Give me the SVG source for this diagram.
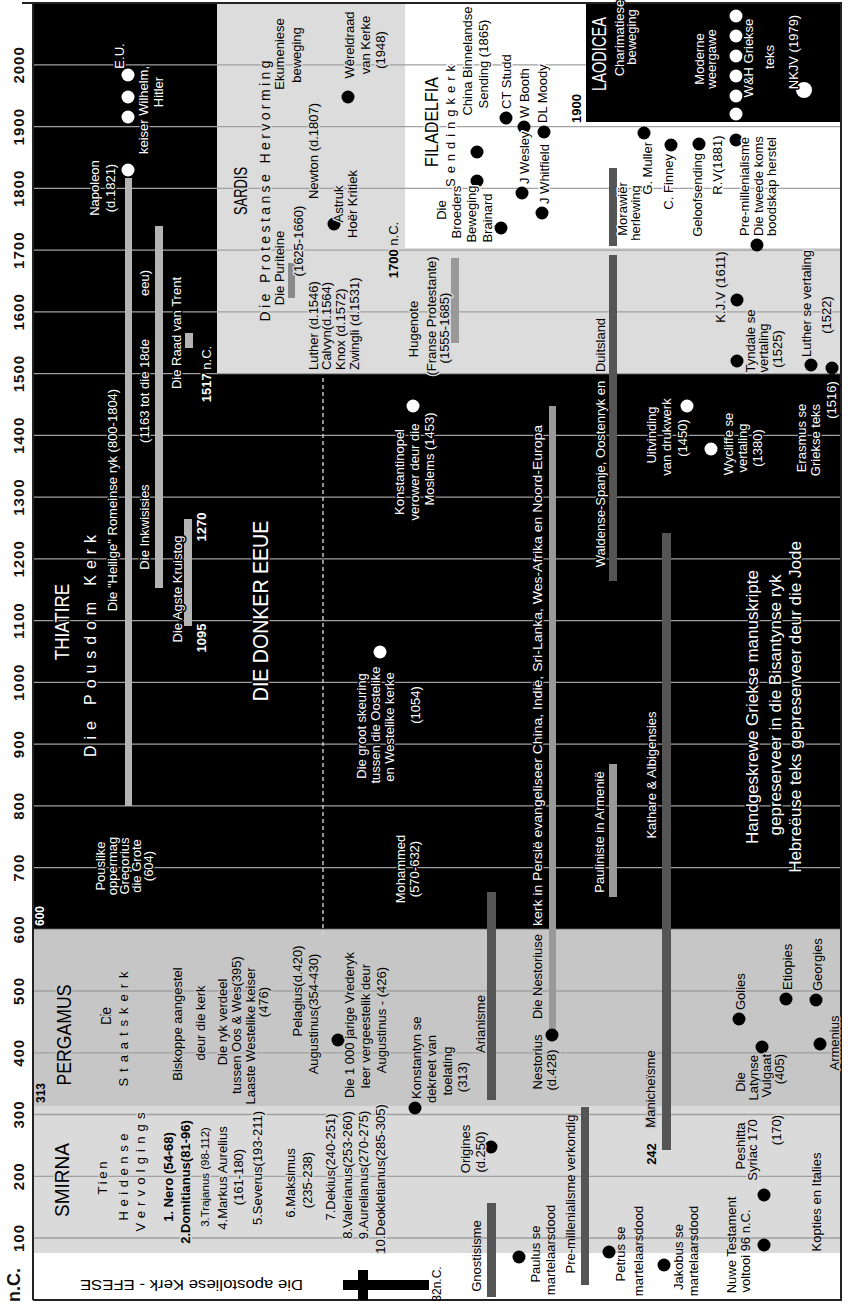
<svg xmlns="http://www.w3.org/2000/svg" width="848" height="1312" viewBox="0 0 848 1312">
<defs>
<style>
text{font-family:"Liberation Sans",Arial,Helvetica,sans-serif;font-size:13px;dominant-baseline:central;text-anchor:middle}
.s{text-anchor:start}
.e{text-anchor:end}
.w{fill:#fff;stroke:#000;stroke-width:3px;paint-order:stroke;stroke-linejoin:round}
.k{fill:#000}
.kp{fill:#000;stroke:#c6c6c6;stroke-width:3px;paint-order:stroke;stroke-linejoin:round}
.ks{fill:#000;stroke:#dadada;stroke-width:3px;paint-order:stroke;stroke-linejoin:round}
.kw{fill:#000;stroke:#fff;stroke-width:3px;paint-order:stroke;stroke-linejoin:round}
.b{font-weight:bold}
.h{font-size:21px}
.yr{font-size:15px;font-weight:bold;letter-spacing:1px;fill:#111}
.g{stroke:#a0a0a0;stroke-width:1.3;fill:none}
.lb{fill:#b4b4b4}
.db{fill:#555}
.mb{fill:#999}
.d{fill:#000}
.wd{fill:#fff}
</style>
</defs>
<rect width="848" height="1312" fill="#fff"/>
<g transform="matrix(0,-1,1,0,0,1312)">
<g id="regions">
<rect x="59" y="33" width="147" height="808" fill="#dadada"/>
<rect x="206" y="33" width="177" height="808" fill="#c6c6c6"/>
<rect x="383" y="33" width="555" height="808" fill="#000"/>
<rect x="938" y="33" width="371" height="184" fill="#000"/>
<rect x="938" y="217" width="371" height="188" fill="#dcdcdc"/>
<rect x="938" y="405" width="126" height="436" fill="#dcdcdc"/>
</g>
<path class="g" d="M74 33V841M135.7 33V841M197.5 33V841M259.2 33V841M321 33V841M382.7 33V841M444.4 33V841M506.2 33V841M567.9 33V841M629.7 33V841M691.4 33V841M753.1 33V841M814.9 33V841M876.6 33V841M938.4 33V841M1000.1 33V841M1061.8 33V841M1123.6 33V841M1185.3 33V841M1247.1 33V841"/>
<rect id="laodicea-box" x="1190" y="586" width="119" height="255" fill="#000"/>
<path d="M1309 22V842M12 33H1309M12 33V842M12 841H1309" stroke="#222" stroke-width="2" fill="none"/>
<g id="years">
<text class="yr" x="74" y="18">100</text><text class="yr" x="135.7" y="18">200</text><text class="yr" x="197.5" y="18">300</text><text class="yr" x="259.2" y="18">400</text><text class="yr" x="321" y="18">500</text><text class="yr" x="382.7" y="18">600</text><text class="yr" x="444.4" y="18">700</text><text class="yr" x="506.2" y="18">800</text><text class="yr" x="567.9" y="18">900</text><text class="yr" x="629.7" y="18">1000</text><text class="yr" x="691.4" y="18">1100</text><text class="yr" x="753.1" y="18">1200</text><text class="yr" x="814.9" y="18">1300</text><text class="yr" x="876.6" y="18">1400</text><text class="yr" x="938.4" y="18">1500</text><text class="yr" x="1000.1" y="18">1600</text><text class="yr" x="1061.8" y="18">1700</text><text class="yr" x="1123.6" y="18">1800</text><text class="yr" x="1185.3" y="18">1900</text><text class="yr" x="1247.1" y="18">2000</text>
<text class="b" x="27" y="14" style="font-size:18px;fill:#111">n.C.</text>
</g>
<g id="connectors">
<rect class="lb" x="506" y="125" width="628" height="7"/>
<rect class="lb" x="724" y="155" width="362" height="8"/>
<rect class="lb" x="686" y="184" width="107" height="8"/>
<rect class="lb" x="964" y="185" width="15" height="8"/>
<rect x="1014" y="288" width="35" height="7" fill="#8a8a8a"/>
<rect class="mb" x="969" y="451" width="85" height="8"/>
<rect class="db" x="731" y="609" width="326" height="8"/>
<rect class="db" x="1066" y="609" width="78" height="8"/>
<rect class="mb" x="277" y="549" width="629" height="7"/>
<rect class="mb" x="415" y="609" width="133" height="8"/>
<rect class="db" x="162" y="662" width="617" height="9"/>
<rect class="db" x="212" y="487" width="208" height="9"/>
<rect class="db" x="15" y="487" width="94" height="9"/>
<rect class="db" x="27" y="581" width="178" height="8"/>
<path d="M377 323H937" stroke="#ddd" stroke-width="1.3" stroke-dasharray="4 3"/>
<rect x="22" y="343" width="10" height="86" fill="#000"/>
<rect x="12" y="358" width="30" height="10" fill="#000"/>
</g>
<g id="dots">
<circle class="d" cx="1215" cy="348" r="6.5"/><circle class="d" cx="1088" cy="334" r="6.5"/>
<circle class="d" cx="1160" cy="477" r="6.5"/><circle class="d" cx="1131" cy="477" r="6.5"/><circle class="d" cx="1084" cy="501" r="6.5"/>
<circle class="d" cx="1119" cy="522" r="6.5"/><circle class="d" cx="1099" cy="542" r="6.5"/>
<circle class="d" cx="1194" cy="506" r="6.5"/><circle class="d" cx="1185" cy="524" r="6.5"/><circle class="d" cx="1180" cy="544" r="6.5"/>
<circle class="d" cx="1179" cy="644" r="6.5"/><circle class="d" cx="1167" cy="671" r="6.5"/><circle class="d" cx="1168" cy="699" r="6.5"/><circle class="d" cx="1172" cy="736" r="6.5"/><circle class="d" cx="1067" cy="757" r="6.5"/>
<circle class="d" cx="1012" cy="737" r="6.5"/><circle class="d" cx="951" cy="737" r="6.5"/><circle class="d" cx="947" cy="811" r="6.5"/><circle class="d" cx="944" cy="832" r="6.5"/>
<circle class="d" cx="272" cy="338" r="6.5"/><circle class="d" cx="204" cy="415" r="6.5"/><circle class="d" cx="277" cy="552" r="6.5"/>
<circle class="d" cx="293" cy="739" r="6.5"/><circle class="d" cx="313" cy="786" r="6.5"/><circle class="d" cx="312" cy="816" r="6.5"/><circle class="d" cx="268" cy="820" r="6.5"/><circle class="d" cx="265" cy="762" r="6.5"/>
<circle class="d" cx="165" cy="491" r="6.5"/><circle class="d" cx="55" cy="519" r="6.5"/><circle class="d" cx="60" cy="609" r="6.5"/><circle class="d" cx="47" cy="664" r="6.5"/><circle class="d" cx="67" cy="764" r="6.5"/><circle class="d" cx="117" cy="764" r="6.5"/>
<circle class="wd" cx="1237" cy="128" r="6.5"/><circle class="wd" cx="1215" cy="128" r="6.5"/><circle class="wd" cx="1195" cy="128" r="6.5"/><circle class="wd" cx="1142" cy="128" r="6.5"/>
<circle class="wd" cx="906" cy="413" r="6.5"/><circle class="wd" cx="660" cy="380" r="6.5"/><circle class="wd" cx="906" cy="687" r="6.5"/><circle class="wd" cx="863" cy="711" r="6.5"/>
<circle class="wd" cx="1296" cy="736" r="6.5"/><circle class="wd" cx="1276" cy="736" r="6.5"/><circle class="wd" cx="1256" cy="736" r="6.5"/><circle class="wd" cx="1236" cy="736" r="6.5"/><circle class="wd" cx="1216" cy="736" r="6.5"/><circle class="wd" cx="1198" cy="736" r="6.5"/>
<circle class="wd" cx="1222" cy="804" r="8"/>
</g>
<g id="thiatire">
<text class="w h" transform="translate(690 62) scale(0.814 1)">THIATIRE</text>
<text class="w" x="666" y="90" style="font-size:16px" textLength="222" lengthAdjust="spacing">Die Pousdom Kerk</text>
<text class="w" x="812" y="112">Die "Heilige" Romeinse ryk (800-1804)</text>
<text class="w" x="1124" y="94">Napoleon</text><text class="w" x="1124" y="110">(d.1821)</text>
<text class="w" x="1256" y="119">E.U.</text>
<text class="w" x="1202" y="143">keiser Wilhelm,</text><text class="w" x="1220" y="158">Hitler</text>
<text class="w" x="785" y="144">Die Inkwisisies</text><text class="w" x="921" y="144">(1163 tot die 18de</text><text class="w" x="1029" y="144">eeu)</text>
<text class="w" x="723" y="177">Die Agste Kruistog</text>
<text class="w b" x="674" y="201">1095</text><text class="w b" x="785" y="201">1270</text>
<text class="w" x="979" y="176">Die Raad van Trent</text>
<text class="w" x="938" y="206"><tspan class="b">1517</tspan> n.C.</text>
<text class="w" transform="translate(701 260) scale(0.89 1)" style="font-size:22px">DIE DONKER EEUE</text>
</g>
<g id="donker">
<text class="w" x="446" y="100">Pouslike</text><text class="w" x="446" y="112">oppermag</text><text class="w" x="446" y="124">Gregorius</text><text class="w" x="446" y="136">die Grote</text><text class="w" x="446" y="148">(604)</text>
<text class="w b s" x="386" y="40" style="font-size:12px">600</text>
<text class="w" x="443" y="400">Mohammed</text><text class="w" x="443" y="414">(570-632)</text>
<text class="w" x="586" y="361">Die groot skeuring</text><text class="w" x="587" y="375">tussen die Oostelike</text><text class="w" x="585" y="389">en Westelike kerke</text><text class="w" x="607" y="415">(1054)</text>
<text class="w" x="840" y="399">Konstantinopel</text><text class="w" x="840" y="414">verower deur die</text><text class="w" x="853" y="429">Moslems (1453)</text>
<text class="w s" x="386" y="537" textLength="501" lengthAdjust="spacingAndGlyphs">kerk in Persië evangeliseer China, Indië, Sri-Lanka, Wes-Afrika en  Noord-Europa</text>
<text class="w" x="838" y="600">Waldense-Spanje, Oostenryk en</text>
<text class="w" x="480" y="599">Pauliniste in Armenië</text>
<text class="w" x="537" y="651">Kathare &amp; Albigensies</text>
<text class="w" x="877" y="651">Uitvinding</text><text class="w" x="875" y="666">van drukwerk</text><text class="w" x="874" y="682">(1450)</text>
<text class="w" x="868" y="728">Wycliffe se</text><text class="w" x="864" y="742">vertaling</text><text class="w" x="864" y="757">(1380)</text>
<text class="w" x="874" y="801">Erasmus se</text><text class="w" x="872" y="815">Griekse teks</text><text class="w" x="912" y="831">(1516)</text>
<text class="w" x="605" y="752" style="font-size:17px">Handgeskrewe Griekse manuskripte</text>
<text class="w" x="607" y="775" style="font-size:17px">gepreserveer in die Bisantynse ryk</text>
<text class="w" x="605" y="795" style="font-size:17px">Hebreëuse teks gepreserveer deur die Jode</text>
</g>
<g id="pergamus">
<text class="kp b s" x="209" y="41" style="font-size:12px">313</text>
<text class="kp h" transform="translate(277 63) scale(0.84 1)">PERGAMUS</text>
<text class="kp" x="296" y="106" style="font-size:14px" textLength="18" lengthAdjust="spacing">Die</text>
<text class="kp" x="283" y="123" textLength="115" lengthAdjust="spacing">Staatskerk</text>
<text class="kp" x="288" y="177">Biskoppe aangestel</text><text class="kp" x="289" y="200">deur die kerk</text>
<text class="kp" x="290" y="222">Die ryk verdeel</text><text class="kp" x="287" y="236">tussen Oos &amp; Wes(395)</text>
<text class="kp" x="276" y="250">Laaste Westelike keiser</text><text class="kp" x="310" y="263">(476)</text>
<text class="kp" x="321" y="297">Pelagius(d.420)</text>
<text class="kp" x="298" y="313">Augustinus(354-430)</text>
<text class="kp" x="287" y="349">Die 1 000 jarige Vrederyk</text><text class="kp" x="286" y="365">leer vergeestelik deur</text><text class="kp" x="292" y="381">Augustinus - (426)</text>
<text class="kp s" x="213" y="416">Konstantyn se</text><text class="kp" x="243" y="431">dekreet van</text><text class="kp" x="241" y="447">toelating</text><text class="kp" x="235" y="462">(313)</text>
<text class="kp" x="288" y="480">Arianisme</text>
<text class="kp" x="250" y="537">Nestorius</text><text class="kp" x="242" y="551">(d.428)</text>
<text class="kp s" x="293" y="537" textLength="85" lengthAdjust="spacingAndGlyphs">Die Nestoriuse</text>
<text class="kp s" x="302" y="740">Golies</text><text class="kp s" x="322" y="787">Etiopies</text><text class="kp s" x="321" y="817">Georgies</text><text class="kp" x="269" y="834">Armenius</text>
<text class="kp" x="230" y="740">Die</text><text class="kp e" x="257" y="753">Latynse</text><text class="kp e" x="258" y="766">Vulgaat</text><text class="kp e" x="258" y="779">(405)</text>
<text class="kp" x="223" y="650">Manicheïsme</text>
</g>
<g id="smirna">
<text class="ks h" transform="translate(132 62) scale(0.906 1)">SMIRNA</text>
<text class="ks" x="134" y="102" textLength="33" lengthAdjust="spacing">Tien</text>
<text class="ks" x="135" y="123" textLength="87" lengthAdjust="spacing">Heidense</text>
<text class="ks" x="140" y="140" textLength="119" lengthAdjust="spacing">Vervolgings</text>
<text class="ks b" x="135" y="168">1. Nero (54-68)</text>
<text class="ks b" x="130" y="185">2.Domitianus(81-96)</text>
<text class="ks" x="135" y="205" style="font-size:11.5px">3.Trajanus  (98-112)</text>
<text class="ks" x="134" y="222">4.Markus Aurelius</text><text class="ks" x="135" y="238">(161-180)</text>
<text class="ks" x="144" y="257">5.Severus(193-211)</text>
<text class="ks" x="129" y="290">6.Maksimus</text><text class="ks" x="132" y="307">(235-238)</text>
<text class="ks" x="145" y="330">7.Dekius(240-251)</text>
<text class="ks" x="137" y="347">8.Valerianus(253-260)</text>
<text class="ks" x="137" y="363">9.Aurelianus(270-275)</text>
<text class="ks" x="133" y="380">10.Deokletianus(285-305)</text>
<text class="ks b" x="158" y="651">242</text>
<text class="ks" x="163" y="465">Origines</text><text class="ks" x="160" y="480">(d.250)</text>
<text class="k" x="118" y="570">Pre-millenialisme verkondig</text>
<text class="ks" x="166" y="740">Peshitta</text><text class="ks" x="162" y="752">Syriac 170</text>
<text class="ks" x="182" y="776">(170)</text>
<text class="k" x="110" y="816">Kopties en Italies</text>
</g>
<g id="efese">
<text class="k" x="27" y="191.5" transform="rotate(-90 27 191.5)" style="font-size:15px" textLength="223" lengthAdjust="spacingAndGlyphs">Die apostoliese Kerk - EFESE</text>
<text class="k" x="28" y="437" style="font-size:12px">32n.C.</text>
<text class="k" x="56" y="476">Gnostisisme</text>
<text class="k" x="58" y="535">Paulus se</text><text class="k" x="62" y="550">martelaarsdood</text>
<text class="k" x="58" y="620">Petrus se</text><text class="k" x="61" y="638">martelaarsdood</text>
<text class="k" x="55" y="678">Jakobus se</text><text class="k" x="61" y="693">martelaarsdood</text>
<text class="k" x="67" y="731">Nuwe Testament</text><text class="k" x="61" y="745">voltooi 96 n.C.</text>
</g>
<g id="sardis">
<text class="ks" transform="translate(1121 240) scale(0.68 1)" style="font-size:19px">SARDIS</text>
<text class="ks" x="1121" y="265" style="font-size:14px" textLength="261" lengthAdjust="spacing">Die Protestanse Hervorming</text>
<text class="ks" x="1258" y="279">Ekumeniese</text><text class="ks" x="1257" y="296">beweging</text>
<text class="ks" x="1161" y="313">Newton  (d.1807)</text>
<text class="ks" x="1108" y="338">Astruk</text><text class="ks" x="1108" y="352">Hoër Kritiek</text>
<text class="ks" x="1267" y="349">Wêreldraad</text><text class="ks" x="1267" y="365">van Kerke</text><text class="ks" x="1262" y="380">(1948)</text>
<text class="ks s" x="942" y="313">Luther (d.1546)</text><text class="ks s" x="942" y="326">Calvyn(d.1564)</text><text class="ks s" x="942" y="340">Knox (d.1572)</text><text class="ks s" x="942" y="354">Zwingli (d.1531)</text>
<text class="ks" x="1044" y="279">Die Puriteine</text><text class="ks" x="1071" y="298">(1625-1660)</text>
<text class="ks" x="1062" y="393"><tspan class="b">1700</tspan> n.C.</text>
<text class="ks" x="983" y="413">Hugenote</text><text class="ks" x="996" y="431">(Franse Protestante)</text><text class="ks" x="984" y="444">(1555-1685)</text>
<text class="ks" x="967" y="600">Duitsland</text>
<text class="ks" x="1025" y="720">K.J.V (1611)</text>
<text class="ks" x="971" y="750">Tyndale se</text><text class="ks" x="964" y="763">vertaling</text><text class="ks" x="963" y="777">(1525)</text>
<text class="ks s" x="955" y="806">Luther se vertaling</text><text class="ks" x="997" y="826">(1522)</text>
</g>
<g id="filadelfia">
<text class="kw" transform="translate(1190 432) scale(0.89 1)" style="font-size:18px">FILADELFIA</text>
<text class="kw" x="1186" y="450" textLength="122" lengthAdjust="spacing">Sendingkerk</text>
<text class="kw" x="1251" y="467">China Binnelandse</text><text class="kw" x="1248" y="483">Sending (1865)</text>
<text class="kw s" x="1203" y="506">CT Studd</text><text class="kw s" x="1194" y="524">W Booth</text><text class="kw s" x="1189" y="542">DL Moody</text>
<text class="kw s" x="1128" y="524">J Wesley</text><text class="kw s" x="1108" y="544">J Whitfield</text>
<text class="kw" x="1102" y="441">Die</text><text class="kw" x="1100" y="456">Broeders</text><text class="kw" x="1098" y="471">Beweging</text><text class="kw" x="1094" y="487">Brainard</text>
<text class="kw b s" x="1189" y="576">1900</text>
<text class="kw" x="1103" y="622">Morawiër</text><text class="kw" x="1099" y="635">herlewing</text>
<text class="kw e" x="1170" y="647">G. Muller</text>
<text class="kw e" x="1158" y="668">C. Finney</text>
<text class="kw e" x="1159" y="697">Geloofsending</text>
<text class="kw" x="1147" y="717">R.V(1881)</text>
<text class="kw s" x="1076" y="744">Pre-millenialisme</text><text class="kw s" x="1076" y="758">Die tweede koms</text><text class="kw s" x="1076" y="771">boodskap herstel</text>
</g>
<g id="laodicea">
<text class="w h" transform="translate(1258 599) scale(0.695 1)">LAODICEA</text>
<text class="w" x="1274" y="619">Charimatiese</text><text class="w" x="1275" y="631">beweging</text>
<text class="w" x="1253" y="699">Moderne</text><text class="w" x="1253" y="711">weergawe</text>
<text class="w" x="1254" y="748">W&amp;H Griekse</text><text class="w" x="1255" y="769">teks</text>
<text class="w" x="1260" y="793">NKJV (1979)</text>
</g>
</g>
</svg>
